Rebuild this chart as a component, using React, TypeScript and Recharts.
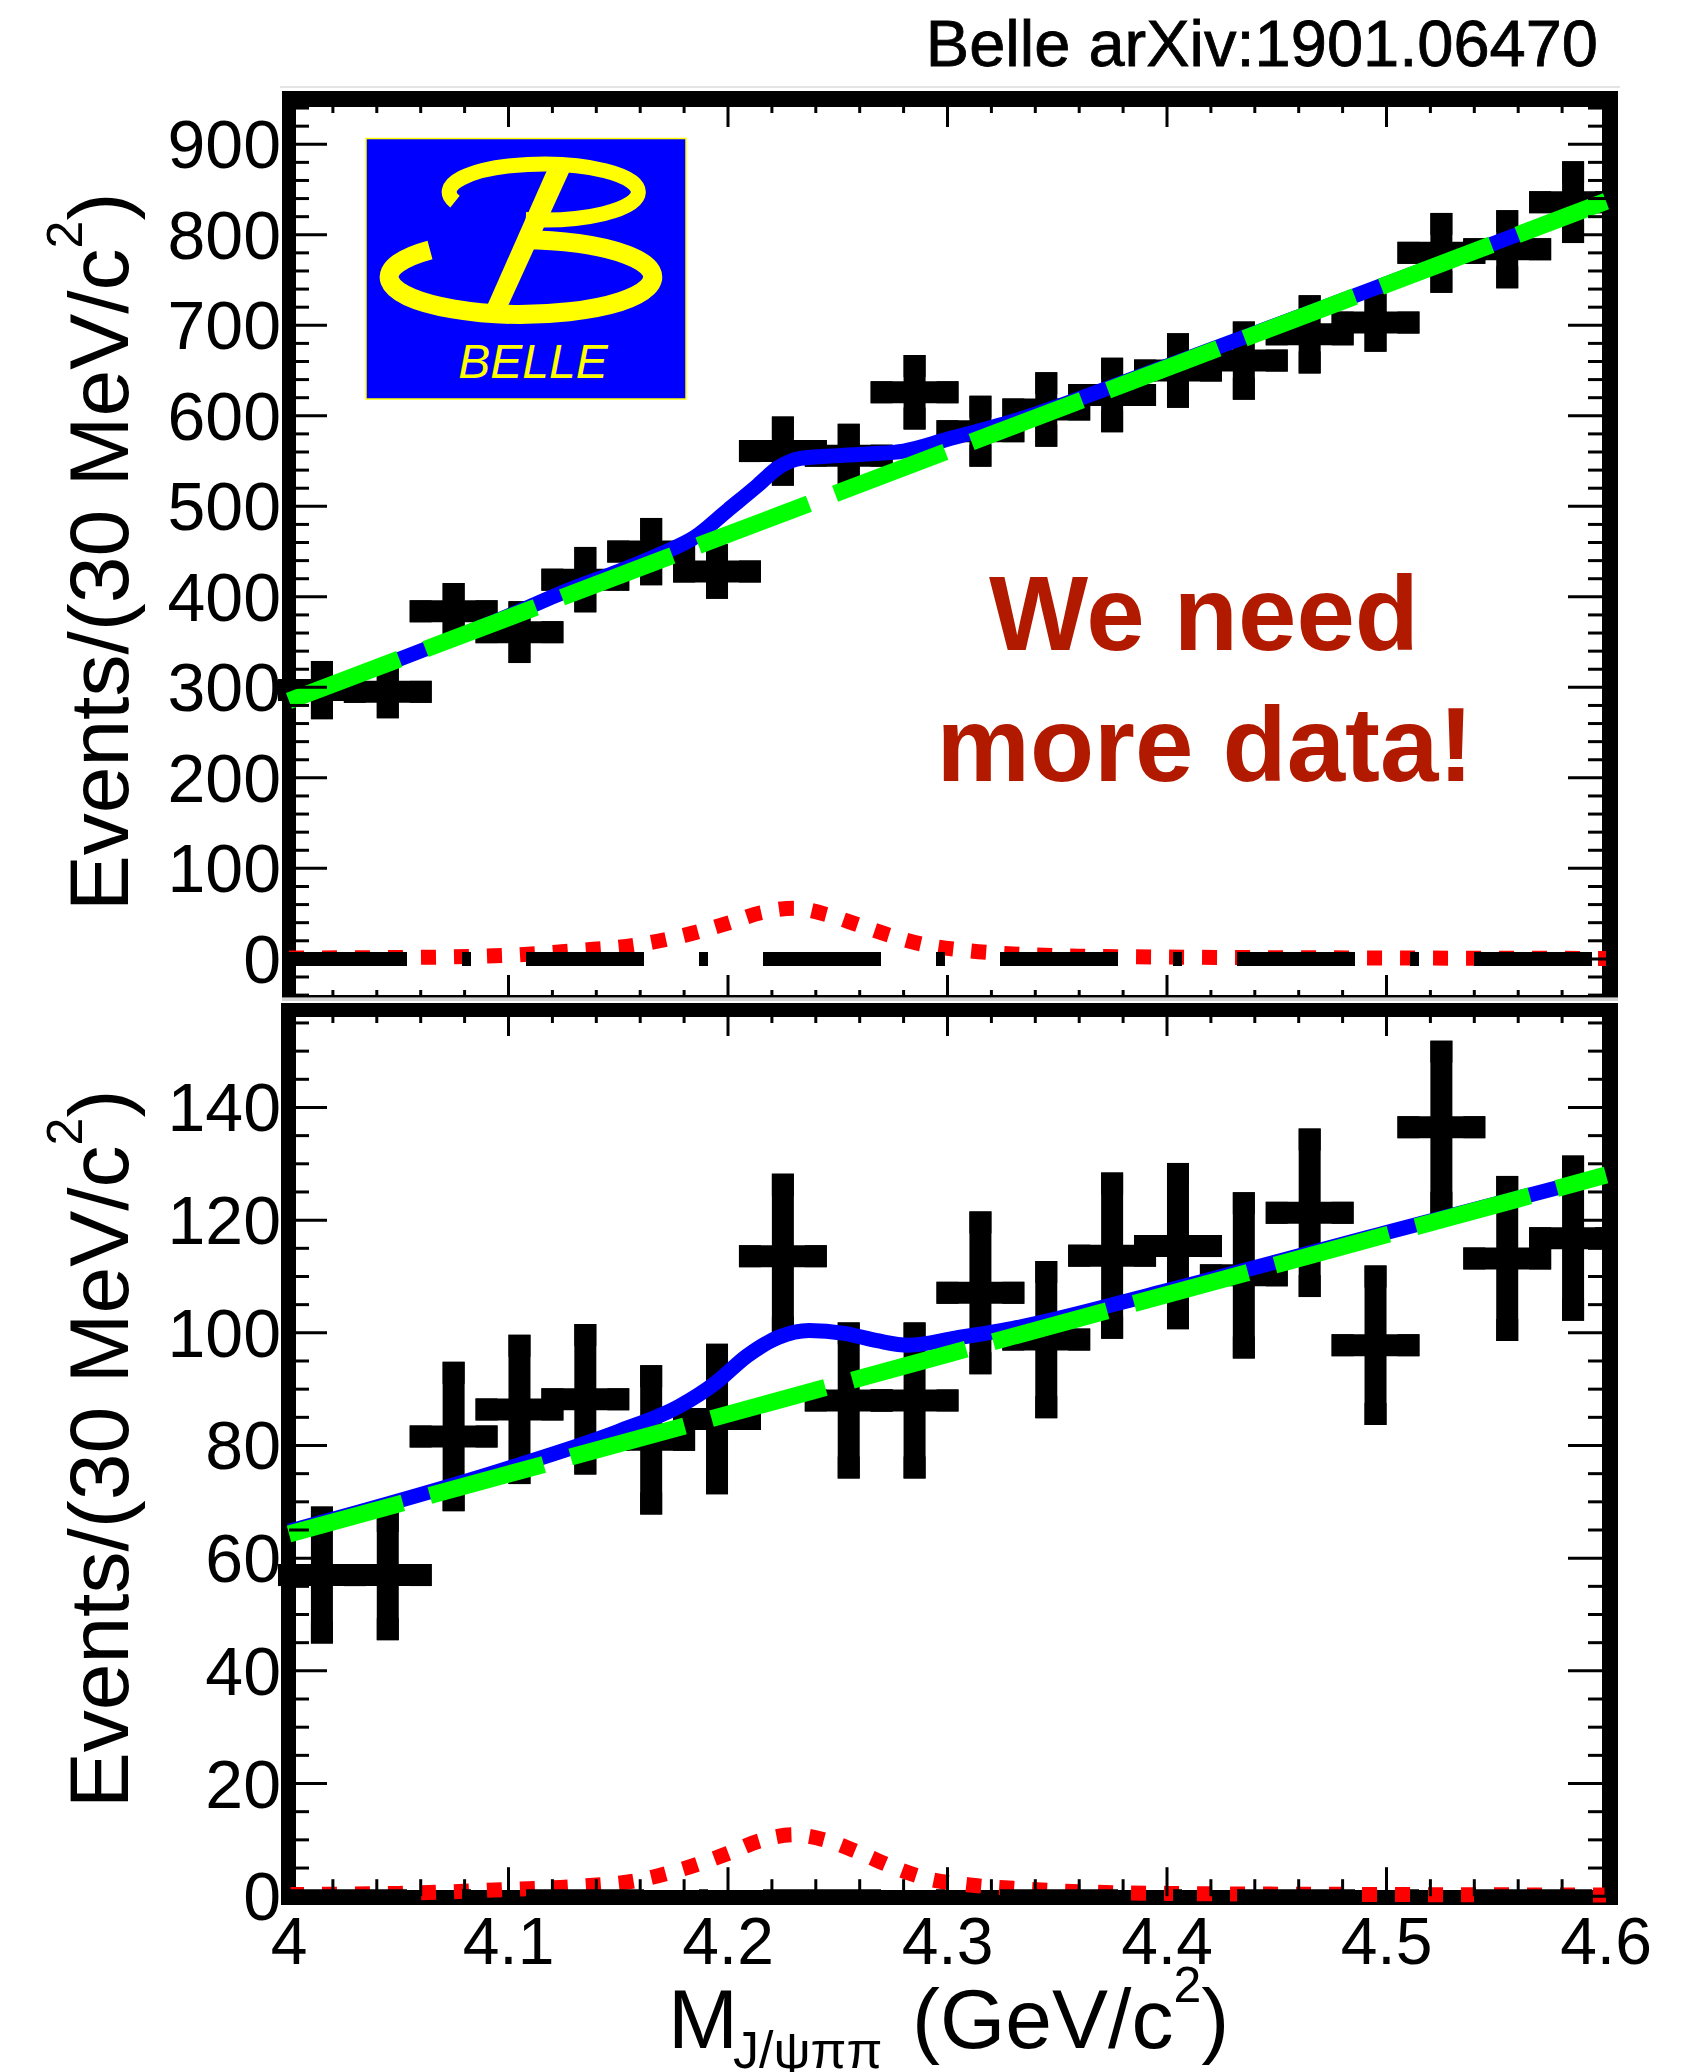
import { ComposedChart, Line, Scatter, ErrorBar, XAxis, YAxis } from 'recharts'

const FONT = '"Liberation Sans", Arial, Helvetica, sans-serif'

// 30 MeV bins from 4.0 to 4.6 GeV
const binCenters = [
  4.015, 4.045, 4.075, 4.105, 4.135, 4.165, 4.195, 4.225, 4.255, 4.285,
  4.315, 4.345, 4.375, 4.405, 4.435, 4.465, 4.495, 4.525, 4.555, 4.585,
]
const binHalfWidth = 0.015

// upper panel
const topCounts = [297, 295, 384, 361, 419, 450, 428, 561, 556, 626, 583, 607, 623, 650, 661, 690, 703, 780, 784, 836]
const topErrors = [20, 17, 19, 22, 24, 25, 18, 26, 23, 29, 27, 29, 29, 29, 31, 31, 20, 32, 31, 33]

const topTotalX = [4.0, 4.1, 4.13, 4.15, 4.17, 4.185, 4.2, 4.213, 4.223, 4.233, 4.25, 4.265, 4.28, 4.3, 4.33, 4.4, 4.5, 4.6]
const topTotalY = [285, 379, 410, 428, 448, 466, 496, 522, 543, 553, 556, 558, 561, 574, 594, 655, 746, 837]
const topBkgX = [4.0, 4.3, 4.6]
const topBkgY = [285, 561, 837]
const signalX = [4.0, 4.05, 4.1, 4.13, 4.16, 4.18, 4.2, 4.215, 4.23, 4.245, 4.26, 4.275, 4.29, 4.31, 4.33, 4.36, 4.4, 4.5, 4.6]
const topSignalY = [1, 1.5, 4, 9, 16, 26, 39.5, 51, 56, 49, 37, 25, 15.5, 9, 5.5, 3, 2, 1, 0.5]

// lower panel
const bottomCounts = [57, 57, 81.6, 86.4, 88.2, 81, 84.7, 113.6, 88, 88, 107.1, 98.8, 113.7, 115.4, 110.2, 121.3, 97.8, 136.5, 113.2, 116.8]
const bottomErrors = [10.2, 9.6, 11.3, 11.3, 11.4, 11.3, 11.4, 12.7, 11.9, 11.9, 12.5, 12.0, 12.8, 12.8, 12.8, 13.0, 12.2, 13.4, 12.7, 12.7]

const bottomTotalX = [4.0, 4.1, 4.15, 4.178, 4.194, 4.209, 4.223, 4.237, 4.253, 4.268, 4.282, 4.304, 4.33, 4.4, 4.5, 4.6]
const bottomTotalY = [64.8, 76, 82.5, 87, 91, 96, 99.2, 100.4, 99.9, 98.6, 97.8, 99.1, 100.8, 107.5, 117.8, 128]
const bottomBkgX = [4.0, 4.3, 4.6]
const bottomBkgY = [64.3, 96.2, 128]
const bottomSignalY = [0.3, 0.5, 1.2, 1.7, 2.9, 4.9, 7.6, 9.9, 10.9, 9.9, 7.7, 5.2, 3.2, 2.0, 1.4, 0.8, 0.5, 0.3, 0.2]

// empty component drawn at zero
const zeroX = [4.0, 4.6]
const zeroY = [0, 0]

const xMajorTicks = [4, 4.1, 4.2, 4.3, 4.4, 4.5, 4.6]
const xTickLabels = ['4', '4.1', '4.2', '4.3', '4.4', '4.5', '4.6']
const topYTicks = [0, 100, 200, 300, 400, 500, 600, 700, 800, 900]
const bottomYTicks = [0, 20, 40, 60, 80, 100, 120, 140]

const PAGE_W = 1696
const PLOT_L = 289
const PLOT_R = 1606
const AXIS_SIZE = 40

type Pt = { x: number; y: number }
const toPts = (xs: number[], ys: number[]): Pt[] => xs.map((x, i) => ({ x, y: ys[i] }))

// minor ticks between the major ones
function withMinors(majors: number[], perMajor: number, lo: number, hi: number) {
  const step = (majors[1] - majors[0]) / perMajor
  const start = majors[0] - Math.floor((majors[0] - lo) / step + 1e-9) * step
  const out: number[] = []
  for (let v = start; v <= hi + 1e-9; v += step) out.push(Math.round(v * 1e6) / 1e6)
  return out
}
const near = (v: number, list: number[]) => list.findIndex((m) => Math.abs(m - v) < 1e-6)

interface PanelSpec {
  pageTop: number
  height: number
  plotTop: number
  plotBottom: number
  yDomain: [number, number]
  yMajors: number[]
  yPerMajor: number
  counts: number[]
  errors: number[]
  total: Pt[]
  bkg: Pt[]
  signal: Pt[]
  xTickTop: [number, number]
  xTickBottom: [number, number]
  showXLabels: boolean
}

const TOP: PanelSpec = {
  pageTop: 0,
  height: 1040,
  plotTop: 99,
  plotBottom: 996,
  yDomain: [-41, 950],
  yMajors: topYTicks,
  yPerMajor: 5,
  counts: topCounts,
  errors: topErrors,
  total: toPts(topTotalX, topTotalY),
  bkg: toPts(topBkgX, topBkgY),
  signal: toPts(signalX, topSignalY),
  xTickTop: [28, 14],
  xTickBottom: [21, 6],
  showXLabels: false,
}

const BOTTOM: PanelSpec = {
  pageTop: 1000,
  height: 1072,
  plotTop: 10,
  plotBottom: 896.2,
  yDomain: [0, 157.3],
  yMajors: bottomYTicks,
  yPerMajor: 4,
  counts: bottomCounts,
  errors: bottomErrors,
  total: toPts(bottomTotalX, bottomTotalY),
  bkg: toPts(bottomBkgX, bottomBkgY),
  signal: toPts(signalX, bottomSignalY),
  xTickTop: [26, 13],
  xTickBottom: [29, 17],
  showXLabels: true,
}

function Panel({ spec }: { spec: PanelSpec }) {
  const points = binCenters.map((x, i) => ({ x, y: spec.counts[i], ex: binHalfWidth, ey: spec.errors[i] }))
  const yTicks = withMinors(spec.yMajors, spec.yPerMajor, spec.yDomain[0], spec.yDomain[1])
  const xTicks = withMinors(xMajorTicks, 5, 4, 4.6)
  const zero = toPts(zeroX, zeroY)

  const yTick = (props: any) => {
    const { y, payload } = props
    const major = near(payload.value, spec.yMajors) >= 0
    return (
      <g>
        <line x1={PLOT_L} x2={PLOT_L + (major ? 38 : 20)} y1={y} y2={y} stroke="#000" strokeWidth={3} />
        <line x1={PLOT_R + 4} x2={major ? 1568 : 1588} y1={y} y2={y} stroke="#000" strokeWidth={3} />
        {major && (
          <text x={281} y={y + 24} textAnchor="end" fontSize={68} fontFamily={FONT} fill="#000">
            {payload.value}
          </text>
        )}
      </g>
    )
  }

  const xTick = (props: any) => {
    const { x, payload } = props
    const idx = near(payload.value, xMajorTicks)
    const major = idx >= 0
    return (
      <g>
        <line x1={x} x2={x} y1={spec.plotTop} y2={spec.plotTop + (major ? spec.xTickTop[0] : spec.xTickTop[1])} stroke="#000" strokeWidth={3} />
        <line x1={x} x2={x} y1={spec.plotBottom} y2={spec.plotBottom - (major ? spec.xTickBottom[0] : spec.xTickBottom[1])} stroke="#000" strokeWidth={3} />
        {spec.showXLabels && major && (
          <text x={x} y={spec.plotBottom + 68} textAnchor="middle" fontSize={66} fontFamily={FONT} fill="#000">
            {xTickLabels[idx]}
          </text>
        )}
      </g>
    )
  }

  return (
    <div style={{ position: 'absolute', left: 0, top: spec.pageTop }}>
      <ComposedChart
        width={PAGE_W}
        height={spec.height}
        margin={{
          top: spec.plotTop,
          bottom: spec.height - spec.plotBottom - AXIS_SIZE,
          left: PLOT_L - AXIS_SIZE,
          right: PAGE_W - PLOT_R,
        }}
      >
        <XAxis type="number" dataKey="x" domain={[4, 4.6]} ticks={xTicks} interval={0} tick={xTick} tickLine={false} axisLine={false} height={AXIS_SIZE} />
        <YAxis type="number" dataKey="y" domain={spec.yDomain} ticks={yTicks} interval={0} tick={yTick} tickLine={false} axisLine={false} width={AXIS_SIZE} />
        <Scatter data={points} dataKey="y" shape={() => <g />} isAnimationActive={false}>
          <ErrorBar dataKey="ex" direction="x" width={0} stroke="#000" strokeWidth={22} strokeLinecap="square" isAnimationActive={false} />
          <ErrorBar dataKey="ey" direction="y" width={0} stroke="#000" strokeWidth={22} strokeLinecap="square" isAnimationActive={false} />
        </Scatter>
        <Line data={spec.total} dataKey="y" type="monotone" stroke="#0000ff" strokeWidth={15} dot={false} activeDot={false} isAnimationActive={false} />
        <Line data={spec.bkg} dataKey="y" type="linear" stroke="#00ff00" strokeWidth={17} strokeDasharray="118 28" dot={false} activeDot={false} isAnimationActive={false} />
        <Line data={spec.signal} dataKey="y" type="monotone" stroke="#ff0000" strokeWidth={15} strokeDasharray="15 18" dot={false} activeDot={false} isAnimationActive={false} />
        <Line data={zero} dataKey="y" type="linear" stroke="#000" strokeWidth={14} strokeDasharray="118 55 9 55" dot={false} activeDot={false} isAnimationActive={false} />
      </ComposedChart>
    </div>
  )
}

function Frames() {
  return (
    <svg width={PAGE_W} height={2072} style={{ position: 'absolute', left: 0, top: 0 }}>
      <rect x={280} y={86} width={1340} height={2} fill="#e4e4e4" />
      {/* upper frame */}
      <rect x={282} y={91} width={1336} height={16} fill="#000" />
      <rect x={282} y={91} width={14} height={906} fill="#000" />
      <rect x={1602} y={91} width={16} height={906} fill="#000" />
      <rect x={282} y={995} width={1336} height={2.5} fill="#000" />
      <rect x={282} y={998} width={1336} height={3} fill="#d4d4d4" />
      {/* lower frame */}
      <rect x={281} y={1003} width={1337} height={14} fill="#000" />
      <rect x={281} y={1003} width={15} height={902} fill="#000" />
      <rect x={1602} y={1003} width={16} height={902} fill="#000" />
      <rect x={281} y={1890} width={1337} height={15} fill="#000" />
    </svg>
  )
}

function Overlay() {
  return (
    <svg width={PAGE_W} height={2072} style={{ position: 'absolute', left: 0, top: 0, pointerEvents: 'none' }}>
      <text x={1598} y={66} textAnchor="end" fontSize={65} fontFamily={FONT} fill="#000" stroke="#000" strokeWidth={0.8}>
        Belle arXiv:1901.06470
      </text>

      {/* Belle logo */}
      <rect x={366} y={138.5} width={320} height={260.5} fill="#0000ff" stroke="#ffff00" strokeWidth={1.5} />
      <path d="M 455 201.7 A 94.6 28 0 1 1 525.7 219.5" fill="none" stroke="#ffff00" strokeWidth={15} />
      <path d="M 430 250 A 131.8 37.3 0 1 0 523 239.7" fill="none" stroke="#ffff00" strokeWidth={19} />
      <polygon points="548,168 571,168 508,306 487,306" fill="#ffff00" />
      <text x={533} y={378} textAnchor="middle" fontSize={48} fontStyle="italic" fontFamily={FONT} fill="#ffff00">
        BELLE
      </text>

      <text x={1204} y={650} textAnchor="middle" fontSize={105} fontWeight="bold" fontFamily={FONT} fill="#b21a00">
        We need
      </text>
      <text x={1205} y={781} textAnchor="middle" fontSize={105} fontWeight="bold" fontFamily={FONT} fill="#b21a00">
        more data!
      </text>

      {[552, 1449].map((cy) => (
        <text key={cy} transform="rotate(-90)" x={-cy} y={128} textAnchor="middle" fontSize={84} fontFamily={FONT} fill="#000">
          Events/(30 MeV/c
          <tspan fontSize={50} dy={-46}>2</tspan>
          <tspan dy={46}>)</tspan>
        </text>
      ))}

      <text y={2048} fontSize={84} fontFamily={FONT} fill="#000">
        <tspan x={668}>M</tspan>
        <tspan x={733} dy={20} fontSize={52}>J/ψππ</tspan>
        <tspan x={912} dy={-20}>(GeV/c</tspan>
        <tspan fontSize={50} dy={-46}>2</tspan>
        <tspan dy={46}>)</tspan>
      </text>
    </svg>
  )
}

export default function App() {
  return (
    <div style={{ position: 'absolute', left: 0, top: 0, width: PAGE_W, height: 2072, background: '#fff', overflow: 'hidden' }}>
      <Frames />
      <Panel spec={TOP} />
      <Panel spec={BOTTOM} />
      <Overlay />
    </div>
  )
}
